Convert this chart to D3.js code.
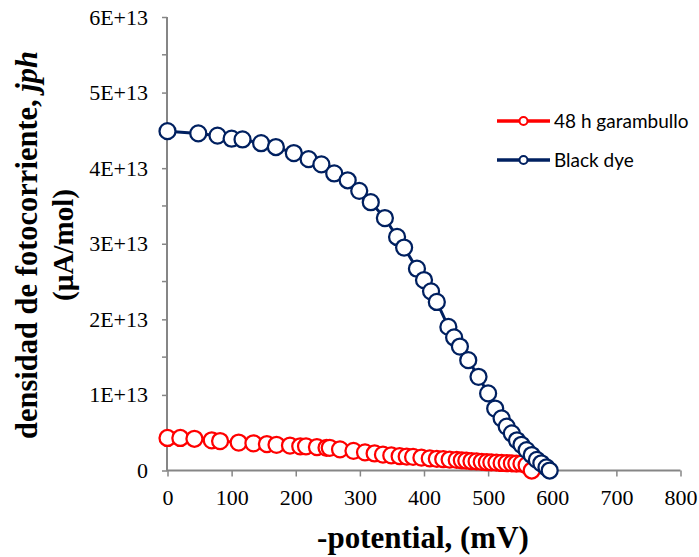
<!DOCTYPE html>
<html><head><meta charset="utf-8">
<script src="https://cdn.jsdelivr.net/npm/d3@7"></script>
<style>body{margin:0;background:#fff}svg{display:block}</style>
</head><body>
<svg id="c" width="699" height="557"></svg>
<script>
// values: potential in mV, current density in units of 1E+13 µA/mol
const redX = [0,20,42,69,82,111,134,155,170,191,207,216,233,248,253,269,290,308,323,336,349,362,373,383,396,409,420,430,440,451,459,466,474,482,490,498,505,513,521,529,537,544,552,560,568];
const redY = [0.43,0.43,0.42,0.40,0.39,0.37,0.36,0.35,0.34,0.33,0.32,0.32,0.31,0.30,0.30,0.28,0.26,0.24,0.225,0.21,0.20,0.19,0.185,0.18,0.17,0.16,0.155,0.15,0.145,0.14,0.135,0.13,0.125,0.12,0.115,0.11,0.108,0.105,0.10,0.098,0.095,0.092,0.09,0.07,0.0];
const blueX = [0,48,78,100,117,146,169,197,220,240,260,281,299,317,339,358,369,389,400,411,420,438,447,456,469,485,500,511,521,529,537,545,552,560,568,576,583,591,596];
const blueY = [4.49,4.46,4.43,4.39,4.38,4.33,4.28,4.20,4.12,4.05,3.93,3.84,3.70,3.55,3.34,3.09,2.95,2.67,2.52,2.37,2.23,1.90,1.76,1.64,1.46,1.24,1.02,0.82,0.69,0.58,0.49,0.40,0.34,0.27,0.205,0.14,0.095,0.04,0.0];
const xTicks = [0,100,200,300,400,500,600,700,800];
const yTicks = [0,1,2,3,4,5,6];
const yMinor = [0.5,1.5,2.5,3.5,4.5,5.5];
const seriesNames = ["48 h garambullo","Black dye"];
const seriesColors = ["#FF0000","#002060"];

const svg = d3.select("#c");
const x = d3.scaleLinear().domain([0,800]).range([167.5,680.5]);
const y = d3.scaleLinear().domain([0,6]).range([470.5,17]);
const axisColor = "#868686";

// y axis
const yAxis = svg.append("g").attr("transform","translate(167,0)")
  .call(d3.axisLeft(y).tickValues(yTicks).tickSize(5).tickPadding(14)
    .tickFormat(d => d===0 ? "0" : d+"E+13"));
yAxis.selectAll(".tick line").attr("stroke",axisColor).attr("stroke-width",1.5);
svg.append("g").attr("transform","translate(167,0)")
  .selectAll("line").data(yMinor).join("line")
  .attr("x1",-5).attr("x2",0).attr("y1",d=>y(d)).attr("y2",d=>y(d))
  .attr("stroke",axisColor).attr("stroke-width",1.5);
// x axis
const xAxis = svg.append("g").attr("transform","translate(0,470.5)")
  .call(d3.axisBottom(x).tickValues(xTicks).tickSize(6).tickPadding(13));
xAxis.selectAll(".tick line").attr("stroke",axisColor).attr("stroke-width",1.5);
[yAxis,xAxis].forEach(a=>{
  a.select(".domain").attr("stroke",axisColor).attr("stroke-width",2);
  a.selectAll("text").attr("font-family","'Liberation Serif', 'Times New Roman', serif")
    .attr("font-size",22).attr("fill","#000");
});
yAxis.select(".domain").attr("d","M0,"+y(6)+"V"+y(0));
xAxis.select(".domain").attr("d","M"+(x(0)-1)+",0H"+x(800));

// series
const series = [
  {xs:redX, ys:redY, color:seriesColors[0]},
  {xs:blueX, ys:blueY, color:seriesColors[1]}
];
const line = d3.line().x(d=>x(d[0])).y(d=>y(d[1]));
series.forEach(s=>{
  const pts = s.xs.map((v,i)=>[v,s.ys[i]]);
  const g = svg.append("g");
  g.append("path").attr("d",line(pts)).attr("fill","none")
    .attr("stroke",s.color).attr("stroke-width",3);
  g.selectAll("circle").data(pts).join("circle")
    .attr("cx",d=>x(d[0])).attr("cy",d=>y(d[1])).attr("r",8)
    .attr("fill","#fff").attr("stroke",s.color).attr("stroke-width",2.25);
});

// legend
const lg = svg.append("g");
seriesNames.forEach((n,i)=>{
  const ly = 121 + i*39;
  lg.append("line").attr("x1",497).attr("x2",550).attr("y1",ly).attr("y2",ly)
    .attr("stroke",seriesColors[i]).attr("stroke-width",3.5);
  lg.append("circle").attr("cx",523.5).attr("cy",ly).attr("r",4)
    .attr("fill","#fff").attr("stroke",seriesColors[i]).attr("stroke-width",2);
  lg.append("text").attr("x",554).attr("y",ly+6.5).text(n)
    .attr("font-family","Lato, 'Open Sans', sans-serif").attr("font-size",19).attr("fill","#000");
});

// titles
const tf = "'Liberation Serif', 'Times New Roman', serif";
svg.append("text").attr("x",423).attr("y",548).attr("text-anchor","middle")
  .attr("font-family",tf).attr("font-weight","bold").attr("font-size",31)
  .text("-potential, (mV)");
const yt = svg.append("g").attr("transform","translate(37,245) rotate(-90)");
const t1 = yt.append("text").attr("x",0).attr("y",0).attr("text-anchor","middle")
  .attr("font-family",tf).attr("font-weight","bold").attr("font-size",30.5);
t1.append("tspan").text("densidad de fotocorriente, ");
t1.append("tspan").attr("font-style","italic").text("jph");
yt.append("text").attr("x",0).attr("y",36).attr("text-anchor","middle")
  .attr("font-family",tf).attr("font-weight","bold").attr("font-size",29)
  .text("(µA/mol)");
</script>
</body></html>
